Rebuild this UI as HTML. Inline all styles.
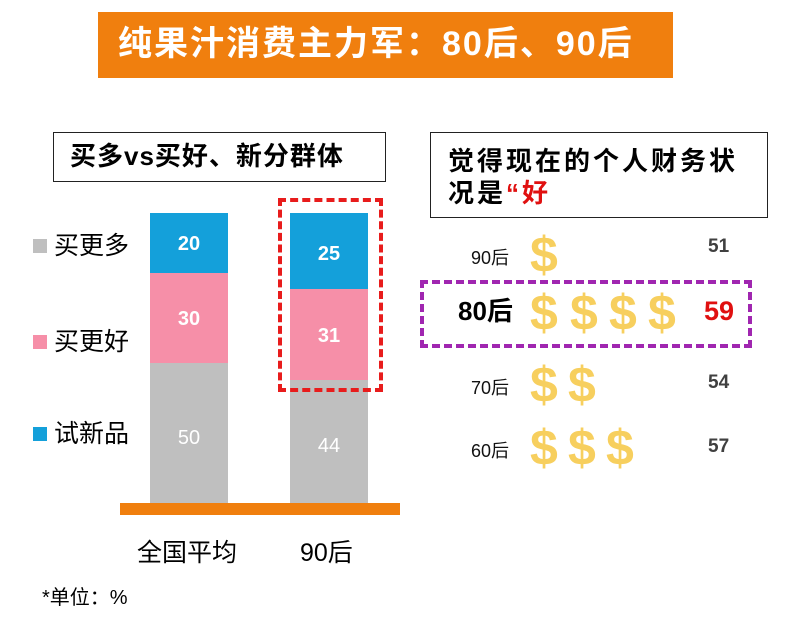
<!DOCTYPE html>
<html><head><meta charset="utf-8"><style>
body{margin:0;width:800px;height:627px;background:#fff;position:relative;overflow:hidden;font-family:"Liberation Sans","Noto Sans CJK SC",sans-serif}
div{position:absolute}
.t{white-space:nowrap;line-height:1}
.d{color:#f7cf5e;font-weight:bold;font-size:50px;line-height:1}
.n{color:#404040;font-weight:bold;font-size:19px}
.g{font-size:18px;color:#111}
</style></head><body>
<div style="left:98px;top:12px;width:575px;height:66px;background:#f07f0e"></div>
<div class="t" style="left:118px;top:27px;font-size:34px;letter-spacing:2px;font-weight:bold;color:#fff">纯果汁消费主力军：80后、90后</div>

<div style="left:53px;top:132px;width:333px;height:50px;border:1.5px solid #222;box-sizing:border-box"></div>
<div class="t" style="left:70px;top:143px;font-size:26px;letter-spacing:1px;font-weight:bold">买多vs买好、新分群体</div>
<div style="left:430px;top:132px;width:338px;height:86px;border:1.5px solid #222;box-sizing:border-box"></div>
<div class="t" style="left:448px;top:145px;font-size:26px;letter-spacing:3px;font-weight:bold;line-height:32px">觉得现在的个人财务状<br>况是<span style="color:#e01010">“好</span></div>

<div style="left:150px;top:213px;width:78px;height:60px;background:#14a0da"></div>
<div style="left:150px;top:273px;width:78px;height:90px;background:#f68fa8"></div>
<div style="left:150px;top:363px;width:78px;height:140px;background:#bfbfbf"></div>
<div style="left:290px;top:213px;width:78px;height:76px;background:#14a0da"></div>
<div style="left:290px;top:289px;width:78px;height:91px;background:#f68fa8"></div>
<div style="left:290px;top:380px;width:78px;height:123px;background:#bfbfbf"></div>
<div style="left:120px;top:503px;width:280px;height:12px;background:#f07f0e"></div>
<div style="left:278px;top:198px;width:105px;height:194px;border:4px dashed #e81c1c;box-sizing:border-box"></div>
<div class="t" style="left:150px;top:234px;width:78px;text-align:center;font-size:20px;font-weight:bold;color:#fff">20</div>
<div class="t" style="left:150px;top:309px;width:78px;text-align:center;font-size:20px;font-weight:bold;color:#fff">30</div>
<div class="t" style="left:150px;top:428px;width:78px;text-align:center;font-size:20px;color:#fff">50</div>
<div class="t" style="left:290px;top:244px;width:78px;text-align:center;font-size:20px;font-weight:bold;color:#fff">25</div>
<div class="t" style="left:290px;top:326px;width:78px;text-align:center;font-size:20px;font-weight:bold;color:#fff">31</div>
<div class="t" style="left:290px;top:436px;width:78px;text-align:center;font-size:20px;color:#fff">44</div>

<div style="left:33px;top:239px;width:14px;height:14px;background:#bfbfbf"></div>
<div class="t" style="left:54px;top:234px;font-size:25px">买更多</div>
<div style="left:33px;top:335px;width:14px;height:14px;background:#f68fa8"></div>
<div class="t" style="left:54px;top:330px;font-size:25px">买更好</div>
<div style="left:33px;top:427px;width:14px;height:14px;background:#14a0da"></div>
<div class="t" style="left:54px;top:422px;font-size:25px">试新品</div>
<div class="t" style="left:137px;top:541px;font-size:25px">全国平均</div>
<div class="t" style="left:300px;top:541px;font-size:25px">90后</div>
<div class="t" style="left:42px;top:588px;font-size:20px">*单位：%</div>

<div class="t g" style="left:471px;top:249px">90后</div>
<div class="t d" style="left:530px;top:230px">$</div>
<div class="t n" style="left:708px;top:237px">51</div>
<div style="left:420px;top:280px;width:332px;height:68px;border:4px dashed #a026b0;box-sizing:border-box"></div>
<div class="t" style="left:458px;top:298px;font-size:26px;font-weight:bold">80后</div>
<div class="t d" style="left:530px;top:288px">$</div>
<div class="t d" style="left:570px;top:288px">$</div>
<div class="t d" style="left:609px;top:288px">$</div>
<div class="t d" style="left:648px;top:288px">$</div>
<div class="t" style="left:704px;top:298px;font-size:27px;font-weight:bold;color:#e01010">59</div>
<div class="t g" style="left:471px;top:379px">70后</div>
<div class="t d" style="left:530px;top:360px">$</div>
<div class="t d" style="left:568px;top:360px">$</div>
<div class="t n" style="left:708px;top:373px">54</div>
<div class="t g" style="left:471px;top:442px">60后</div>
<div class="t d" style="left:530px;top:423px">$</div>
<div class="t d" style="left:568px;top:423px">$</div>
<div class="t d" style="left:606px;top:423px">$</div>
<div class="t n" style="left:708px;top:437px">57</div>
</body></html>
